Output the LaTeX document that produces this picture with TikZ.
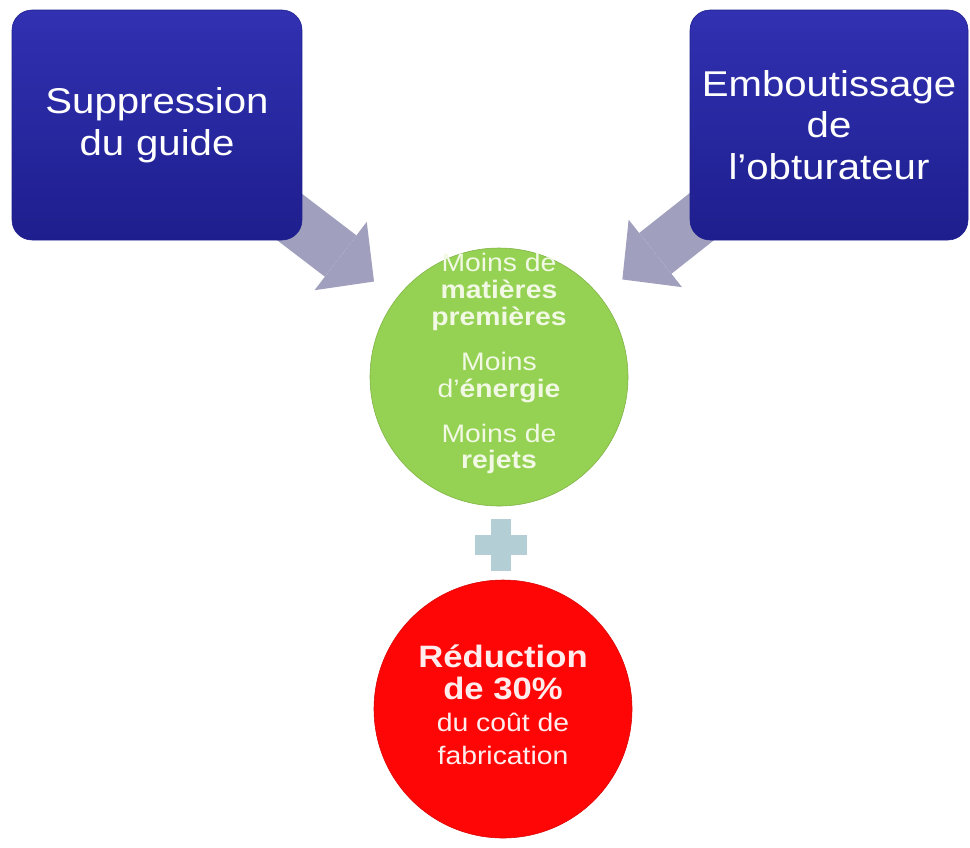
\documentclass[tikz,border=0pt]{standalone}
\usepackage{fontspec}
\setmainfont{Liberation Sans}[FakeStretch=1.12]
\usepackage{tikz}
\usetikzlibrary{arrows.meta,calc,backgrounds}
\definecolor{GainBlueTop}{HTML}{3131B2}
\definecolor{GainBlueBot}{HTML}{1E1E8E}
\definecolor{GainGreen}{HTML}{95D152}
\definecolor{GainGreenText}{HTML}{F1F9E4}
\definecolor{GainRed}{HTML}{FE0606}
\definecolor{GainRedText}{HTML}{FFEDED}
\definecolor{GainGrey}{HTML}{A0A0BE}
\definecolor{GainPlus}{HTML}{B3CFD5}

\begin{document}
\begin{tikzpicture}[
      change/.style={rectangle,rounded corners=0.5cm,top color=GainBlueTop,
        bottom color=GainBlueBot,draw=GainBlueBot,thin,text=white,
        minimum height=5.75cm,inner sep=0pt,align=center,
        font=\fontsize{25.5}{29.5}\selectfont},
      disc/.style={circle,minimum size=6.45cm,inner sep=0pt},
      gain/.style={disc,fill=GainGreen,draw=GainGreen!85!black,thin},
      gaintext/.style={text=GainGreenText,font=\fontsize{18}{19}\selectfont},
      result/.style={disc,fill=GainRed,draw=GainRed!85!black,thin,
        text=GainRedText,font=\fontsize{18}{23}\selectfont},
      bigarrow/.style={line width=1.3cm,draw=GainGrey,
        -{Triangle[length=1.05cm,width=2.15cm,line width=0pt]},
        shorten <=-1cm,shorten >=0.7cm}
    ]
      \useasboundingbox (0,0) rectangle (24.25,-21.175);

      % the two design changes
      \node[change,minimum width=7.25cm,text width=7.25cm] (sup) at (3.925,-3.125)
        {Suppression\\du guide};
      \node[change,minimum width=6.95cm,text width=6.95cm] (embout) at (20.725,-3.125)
        {Emboutissage\\de\\l’obturateur};

      % what they save
      \node[gain] (moins) at (12.475,-9.425) {};
      \node[gaintext] (moinstext) at ([yshift=0.3cm]moins.center)
        {\begin{tabular}{@{}c@{}}
        Moins de\\ \textbf{matières}\\ \textbf{premières}\\[13pt]
        Moins\\ d’\textbf{énergie}\\[13pt]
        Moins de\\ \textbf{rejets}
        \end{tabular}};

      \node[minimum size=1.3cm,inner sep=0pt] (plus) at (12.525,-13.625) {};
      \fill[GainPlus] ($(plus.north)+(-0.25,0)$) rectangle ($(plus.south)+(0.25,0)$);
      \fill[GainPlus] ($(plus.west)+(0,-0.25)$) rectangle ($(plus.east)+(0,0.25)$);

      \node[result] (reduc) at (12.575,-17.725) {\begin{tabular}{@{}c@{}}
        {\fontsize{22}{23}\selectfont\bfseries Réduction}\\
        {\fontsize{22}{23}\selectfont\bfseries de 30\%}\\
        du coût de\\
        fabrication
        \end{tabular}};

      \begin{scope}[on background layer]
        \draw[bigarrow] (sup.-35) -- (moins);
        \draw[bigarrow] (embout.216) -- (moins);
      \end{scope}
    \end{tikzpicture}
\end{document}
